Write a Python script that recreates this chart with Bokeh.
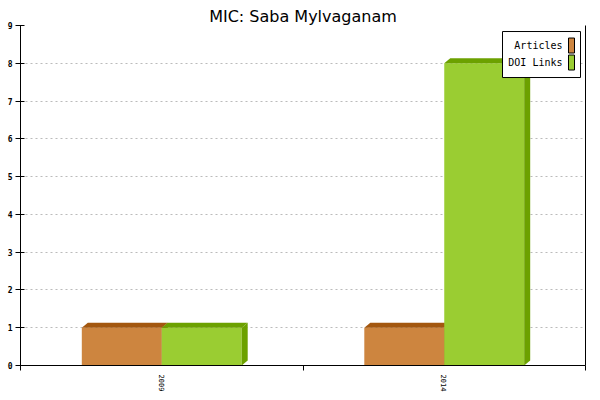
from bokeh.plotting import figure
from bokeh.models import (FixedTicker, LinearAxis, Range1d, BoxAnnotation, Label)
from bokeh.embed import file_html
from bokeh.resources import INLINE

# ---- data ----
years = ["2009", "2014"]
articles = [1, 1]
doi_links = [1, 8]
series_names = ["Articles", "DOI Links"]
y_ticks = [0, 1, 2, 3, 4, 5, 6, 7, 8, 9]

# ---- styles ----
front_colors = ["#CD853F", "#9ACD32"]
dark_colors = ["#A3570F", "#6CA100"]
bar_w = 0.283
PX_X = 282.5     # pixels per x data unit
PX_Y = 37.78     # pixels per y data unit
DX = 6 / PX_X    # depth in x (data units)
DY = 5 / PX_Y    # depth in y (data units)
MONO = "DejaVu Sans Mono"

p = figure(width=600, height=400, output_backend="svg", toolbar_location=None,
           x_range=Range1d(0, len(years)), y_range=Range1d(0, 9),
           min_border_left=20, min_border_right=15, min_border_top=25,
           min_border_bottom=35, title="MIC: Saba Mylvaganam")
p.outline_line_color = None
p.title.align = "center"
p.title.text_font = "DejaVu Sans"
p.title.text_font_size = "16px"
p.title.text_font_style = "normal"
p.title.text_color = "black"
p.title.standoff = 0
p.title.offset = 0

centers = [i + 0.5 for i in range(len(years))]

for s, vals in enumerate([articles, doi_links]):
    lefts = [c - bar_w + s * bar_w for c in centers]
    rights = [l + bar_w for l in lefts]
    p.quad(left=lefts, right=rights, bottom=0, top=vals,
           fill_color=front_colors[s], line_color=None)
    tops_x = [[l, l + DX, r + DX, r] for l, r in zip(lefts, rights)]
    tops_y = [[v, v + DY, v + DY, v] for v in vals]
    p.patches(tops_x, tops_y, fill_color=dark_colors[s], line_color=None)
    side_x = [[r, r + DX, r + DX, r] for r in rights]
    side_y = [[0, DY, v + DY, v] for v in vals]
    p.patches(side_x, side_y, fill_color=dark_colors[s], line_color=None)

# axes
xa = p.xaxis[0]
xa.ticker = FixedTicker(ticks=centers, minor_ticks=list(range(len(years) + 1)))
xa.major_label_overrides = {c: y for c, y in zip(centers, years)}
xa.major_label_orientation = "vertical"
xa.major_tick_in = 0
xa.major_tick_out = 0
xa.minor_tick_in = 0
xa.minor_tick_out = 5
xa.minor_tick_line_color = "black"
xa.major_label_text_font = MONO
xa.major_label_text_font_size = "7px"
xa.major_label_text_color = "black"
xa.major_label_standoff = 4
xa.axis_line_color = "black"

ya = p.yaxis[0]
ya.ticker = FixedTicker(ticks=y_ticks, minor_ticks=[])
ya.major_tick_in = 4
ya.major_tick_out = 5
ya.major_tick_line_color = "black"
ya.major_label_text_font = MONO
ya.major_label_text_font_size = "8px"
ya.major_label_text_font_style = "bold"
ya.major_label_text_color = "black"
ya.major_label_standoff = 3
ya.axis_line_color = "black"

ra = LinearAxis(ticker=FixedTicker(ticks=[], minor_ticks=[]),
                major_label_text_font_size="0px", major_tick_out=0, major_tick_in=0,
                axis_line_color="black")
p.add_layout(ra, "right")

p.xgrid.visible = False
p.ygrid.ticker = FixedTicker(ticks=y_ticks[1:])
p.ygrid.grid_line_color = "#BBBBBB"
p.ygrid.grid_line_dash = "2 3"

# legend (label left of swatch), placed in data units of the plot
lx0, lx1 = (502 - 20) / PX_X, (580 - 20) / PX_X
ly0, ly1 = (365 - 77) / PX_Y, (365 - 31) / PX_Y
p.add_layout(BoxAnnotation(left=lx0, right=lx1, bottom=ly0, top=ly1,
                           fill_color="white", fill_alpha=1.0,
                           line_color="black", line_alpha=1.0, line_width=1,
                           level="overlay"))
for i, name in enumerate(series_names):
    yc = (365 - (45 + 17 * i)) / PX_Y
    p.add_layout(Label(x=(562 - 20) / PX_X, y=yc, text=name, text_align="right",
                       text_baseline="middle", text_font=MONO, text_font_size="10px",
                       text_color="black", level="overlay"))
    p.add_layout(BoxAnnotation(left=(568 - 20) / PX_X, right=(574 - 20) / PX_X,
                               bottom=yc - 7.5 / PX_Y, top=yc + 7.5 / PX_Y,
                               fill_color=front_colors[i], fill_alpha=1.0,
                               line_color="black", line_alpha=1.0, line_width=1,
                               level="overlay"))

open("out.html", "w").write(file_html(p, INLINE))
